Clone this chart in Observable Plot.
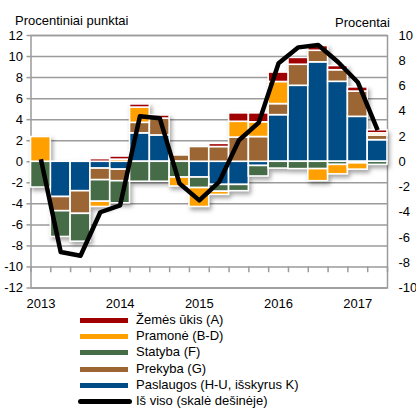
<!DOCTYPE html>
<html>
<head>
<meta charset="utf-8">
<script src="https://cdn.jsdelivr.net/npm/d3@7"></script>
<script src="https://cdn.jsdelivr.net/npm/@observablehq/plot@0.6"></script>
<style>
  html, body { margin: 0; padding: 0; background: #fff; }
  body { font-family: "Liberation Sans", Arial, sans-serif; color: #000; }
  #wrap { position: relative; width: 416px; height: 408px; overflow: hidden; }
  #chart svg { display: block; font-family: "Liberation Sans", Arial, sans-serif; }
  #chart svg g[aria-label="rect"] { filter: drop-shadow(2px 3px 2px rgba(0,0,0,0.35)); }
  .ttl { position: absolute; font-size: 13px; line-height: 13px; white-space: nowrap; }
  #legend { position: absolute; left: 0; top: 312px; width: 416px; }
  .row { position: relative; height: 16.2px; font-size: 13px; line-height: 16.2px; white-space: nowrap; }
  .sw { position: absolute; left: 80px; top: 6px; width: 48px; height: 5px; }
  .sw.line { left: 78px; width: 54px; height: 5px; border-radius: 3px; }
  .lab { position: absolute; left: 136px; top: 0; }
</style>
</head>
<body>
<div id="wrap">
  <div id="chart"></div>
  <div class="ttl" style="left:15px; top:14px;">Procentiniai punktai</div>
  <div class="ttl" style="left:335px; top:16px;">Procentai</div>
  <div id="legend"></div>
</div>
<script>
// Quarters 2013 I – 2017 II
const quarters = ["2013 I","2013 II","2013 III","2013 IV","2014 I","2014 II","2014 III","2014 IV",
  "2015 I","2015 II","2015 III","2015 IV","2016 I","2016 II","2016 III","2016 IV","2017 I","2017 II"];
const yearLabels = ["2013","2014","2015","2016","2017"];

// Contributions, percentage points (left axis)
const paslaugos = [0, -3.35, -2.8, -0.65, -0.75, 2.7, 2.5, 0, -1.5, -2.2, -2.2, -0.4, 4.43, 7.22, 9.45, 7.6, 4.27, 2.05];
const prekyba   = [0, -1.35, -2.15, -1.1, -1.1, 1.0, 1.6, 0.6, 1.4, 1.4, 2.3, 2.35, 1.05, 2.0, 1.1, 1.1, 2.4, 0.45];
const statyba   = [-2.45, -2.45, -2.65, -2.05, -2.1, -1.9, -1.9, -1.5, -1.0, -0.65, -0.6, -1.0, -0.65, -0.7, -0.7, -0.3, -0.15, -0.3];
const pramone   = [2.35, 0, 0, -0.5, 0.2, 1.45, 0, -0.85, -1.8, -0.3, 1.5, 1.4, 2.1, 0, -1.15, -0.9, -0.6, 0.2];
const zemes     = [0, 0, 0.1, 0.25, 0.3, 0.3, 0.3, 0, 0, 0.3, 0.8, 0.85, 0.9, 0.65, 0.45, 0.4, 0.4, 0.3];
// Total, percent (right axis)
const total     = [0.2, -7.15, -7.45, -4.0, -3.45, 3.6, 3.45, -1.73, -3.06, -1.6, 1.7, 3.1, 7.8, 9.06, 9.25, 7.9, 6.3, 2.5];

const seriesNames = ["Paslaugos (H-U, išskyrus K)", "Prekyba (G)", "Statyba (F)", "Pramonė (B-D)", "Žemės ūkis (A)"];
const seriesValues = [paslaugos, prekyba, statyba, pramone, zemes];
const seriesColors = ["#004c86", "#9b6534", "#456c47", "#ffa000", "#a00000"];
const totalName = "Iš viso (skalė dešinėje)";

const leftTicks = d3.range(-12, 13, 2);
const rightTicks = d3.range(-10, 11, 2);
const rightToLeft = 12 / 10;

const rows = [];
seriesNames.forEach((s, k) => {
  seriesValues[k].forEach((v, i) => rows.push({series: s, i, value: v}));
});
const idx = quarters.map((q, i) => i);
const gray = "#9b9b9b";

const chart = Plot.plot({
  width: 416,
  height: 310,
  marginLeft: 30.5,
  marginRight: 29,
  marginTop: 35,
  marginBottom: 22.5,
  style: {fontSize: "13px", fontFamily: "Liberation Sans, Arial, sans-serif", color: "#000", background: "transparent", overflow: "visible"},
  x: {domain: [0, quarters.length], axis: null},
  y: {domain: [-12, 12], axis: null},
  color: {domain: seriesNames, range: seriesColors},
  marks: [
    Plot.gridY(leftTicks, {stroke: gray, strokeOpacity: 1, strokeWidth: 1.5}),
    Plot.frame({stroke: gray, strokeWidth: 1.5}),
    Plot.ruleX(d3.range(0, quarters.length + 1), {y1: -10, y2: -10.55, stroke: gray, strokeWidth: 1.5}),
    Plot.axisY(leftTicks, {anchor: "left", label: null, tickSize: 4, tickPadding: 4, stroke: gray, strokeWidth: 1.5, fill: "#000", tickFormat: d => String(d)}),
    Plot.axisY(rightTicks.map(r => r * rightToLeft), {anchor: "right", label: null, tickSize: 0, tickPadding: 11, fill: "#000", textAnchor: "start",
      tickFormat: d => String(Math.round(d / rightToLeft))}),
    Plot.axisX([0.5, 4.5, 8.5, 12.5, 16.5], {anchor: "bottom", label: null, tickSize: 0, tickPadding: 11, fill: "#000",
      tickFormat: d => yearLabels[Math.floor(d / 4)]}),
    Plot.rectY(rows, {x1: d => d.i, x2: d => d.i + 1, y: "value", fill: "series", z: "series",
      stroke: "#fff", strokeWidth: 1.6}),
    Plot.line(idx, {x: i => i + 0.5, y: i => total[i] * rightToLeft, stroke: "#000", strokeWidth: 4.5,
      strokeLinejoin: "round", strokeLinecap: "butt"})
  ]
});
document.getElementById("chart").appendChild(chart);

// Legend (reverse stacking order, as in the reference)
const legend = document.getElementById("legend");
const legendItems = seriesNames.map((s, k) => ({name: s, color: seriesColors[k], line: false})).reverse();
legendItems.push({name: totalName, color: "#000", line: true});
legendItems.forEach(it => {
  const row = document.createElement("div");
  row.className = "row";
  const sw = document.createElement("div");
  sw.className = "sw" + (it.line ? " line" : "");
  sw.style.background = it.color;
  const lab = document.createElement("div");
  lab.className = "lab";
  lab.textContent = it.name;
  row.appendChild(sw);
  row.appendChild(lab);
  legend.appendChild(row);
});
</script>
</body>
</html>
